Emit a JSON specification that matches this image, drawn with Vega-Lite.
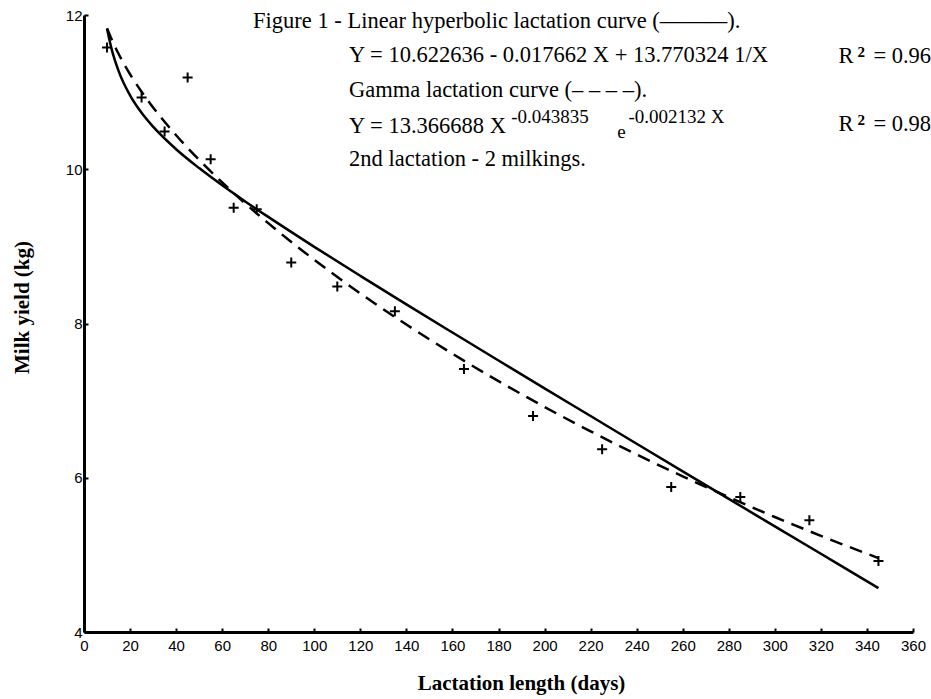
{
  "$schema": "https://vega.github.io/schema/vega-lite/v6.json",
  "width": 829,
  "height": 617,
  "autosize": {"type": "none"},
  "padding": {"left": 84, "top": 15, "right": 18, "bottom": 67},
  "background": "white",
  "config": {
    "view": {"stroke": null},
    "axis": {
      "grid": false,
      "domainColor": "black",
      "domainWidth": 3,
      "tickColor": "black",
      "tickWidth": 2,
      "tickSize": -4,
      "labelFont": "Liberation Sans",
      "labelFontSize": 15,
      "labelColor": "black",
      "labelFlush": false,
      "labelOverlap": false,
      "titleFont": "Liberation Serif",
      "titleFontWeight": "bold",
      "titleFontSize": 21,
      "titleColor": "black"
    },
    "text": {"font": "Liberation Serif", "fontSize": 22.5, "color": "black", "align": "left", "baseline": "alphabetic"}
  },
  "datasets": {
    "obs": [
      {"day": 10, "yield": 11.58},
      {"day": 25, "yield": 10.93},
      {"day": 35, "yield": 10.49},
      {"day": 45, "yield": 11.19},
      {"day": 55, "yield": 10.13},
      {"day": 65, "yield": 9.50},
      {"day": 75, "yield": 9.48},
      {"day": 90, "yield": 8.79},
      {"day": 110, "yield": 8.48},
      {"day": 135, "yield": 8.16},
      {"day": 165, "yield": 7.41},
      {"day": 195, "yield": 6.80},
      {"day": 225, "yield": 6.37},
      {"day": 255, "yield": 5.88},
      {"day": 285, "yield": 5.75},
      {"day": 315, "yield": 5.45},
      {"day": 345, "yield": 4.92}
    ],
    "curves": [
      {"day": 10, "hyper": 11.823, "gamma": 11.828},
      {"day": 12, "hyper": 11.558, "gamma": 11.684},
      {"day": 15, "hyper": 11.276, "gamma": 11.497},
      {"day": 20, "hyper": 10.958, "gamma": 11.232},
      {"day": 25, "hyper": 10.732, "gamma": 11.005},
      {"day": 30, "hyper": 10.552, "gamma": 10.802},
      {"day": 40, "hyper": 10.260, "gamma": 10.441},
      {"day": 50, "hyper": 10.015, "gamma": 10.122},
      {"day": 60, "hyper": 9.792, "gamma": 9.829},
      {"day": 70, "hyper": 9.583, "gamma": 9.557},
      {"day": 80, "hyper": 9.382, "gamma": 9.301},
      {"day": 100, "hyper": 8.994, "gamma": 8.826},
      {"day": 120, "hyper": 8.618, "gamma": 8.390},
      {"day": 140, "hyper": 8.248, "gamma": 7.986},
      {"day": 160, "hyper": 7.883, "gamma": 7.608},
      {"day": 180, "hyper": 7.520, "gamma": 7.253},
      {"day": 200, "hyper": 7.159, "gamma": 6.918},
      {"day": 220, "hyper": 6.800, "gamma": 6.602},
      {"day": 240, "hyper": 6.441, "gamma": 6.302},
      {"day": 260, "hyper": 6.083, "gamma": 6.018},
      {"day": 280, "hyper": 5.726, "gamma": 5.748},
      {"day": 300, "hyper": 5.370, "gamma": 5.491},
      {"day": 320, "hyper": 5.014, "gamma": 5.247},
      {"day": 345, "hyper": 4.569, "gamma": 4.958}
    ]
  },
  "layer": [
    {
      "data": {"name": "curves"},
      "mark": {"type": "line", "color": "black", "strokeWidth": 2.5, "interpolate": "monotone"},
      "encoding": {
        "x": {
          "field": "day", "type": "quantitative",
          "scale": {"domain": [0, 360], "nice": false, "zero": false},
          "axis": {
            "title": "Lactation length (days)",
            "values": [0, 20, 40, 60, 80, 100, 120, 140, 160, 180, 200, 220, 240, 260, 280, 300, 320, 340, 360],
            "format": "d",
            "labelPadding": 10,
            "titleX": 437, "titleY": 57, "titleAlign": "center", "titleBaseline": "alphabetic", "titleAnchor": null
          }
        },
        "y": {
          "field": "hyper", "type": "quantitative",
          "scale": {"domain": [4, 12], "nice": false, "zero": false},
          "axis": {
            "title": "Milk yield (kg)",
            "values": [4, 6, 8, 10, 12],
            "format": "d",
            "labelPadding": 6,
            "titleX": -56, "titleY": 292, "titleAngle": -90, "titleAlign": "center", "titleBaseline": "alphabetic", "titleAnchor": null
          }
        }
      }
    },
    {
      "data": {"name": "curves"},
      "mark": {"type": "line", "color": "black", "strokeWidth": 2.5, "strokeDash": [13, 8], "interpolate": "monotone"},
      "encoding": {
        "x": {"field": "day", "type": "quantitative"},
        "y": {"field": "gamma", "type": "quantitative"}
      }
    },
    {
      "data": {"name": "obs"},
      "mark": {"type": "point", "shape": "M-1,0L1,0M0,-1L0,1", "filled": false, "stroke": "black", "strokeWidth": 2, "size": 100, "opacity": 1},
      "encoding": {
        "x": {"field": "day", "type": "quantitative"},
        "y": {"field": "yield", "type": "quantitative"}
      }
    },
    {
      "data": {"values": [{"t": "Figure 1 - Linear hyperbolic lactation curve (———)."}]},
      "mark": {"type": "text"},
      "encoding": {"x": {"datum": 73.4}, "y": {"datum": 11.834}, "text": {"field": "t"}}
    },
    {
      "data": {"values": [{"t": "Y = 10.622636 - 0.017662 X + 13.770324 1/X"}]},
      "mark": {"type": "text"},
      "encoding": {"x": {"datum": 115.1}, "y": {"datum": 11.397}, "text": {"field": "t"}}
    },
    {
      "data": {"values": [{"t": "R"}]},
      "mark": {"type": "text"},
      "encoding": {"x": {"datum": 327.6}, "y": {"datum": 11.384}, "text": {"field": "t"}}
    },
    {
      "data": {"values": [{"t": "2"}]},
      "mark": {"type": "text", "fontSize": 15, "fontWeight": "bold"},
      "encoding": {"x": {"datum": 335.9}, "y": {"datum": 11.461}, "text": {"field": "t"}}
    },
    {
      "data": {"values": [{"t": "= 0.96"}]},
      "mark": {"type": "text"},
      "encoding": {"x": {"datum": 342.8}, "y": {"datum": 11.384}, "text": {"field": "t"}}
    },
    {
      "data": {"values": [{"t": "Gamma lactation curve (– – – –)."}]},
      "mark": {"type": "text"},
      "encoding": {"x": {"datum": 115.1}, "y": {"datum": 10.942}, "text": {"field": "t"}}
    },
    {
      "data": {"values": [{"t": "Y = 13.366688 X"}]},
      "mark": {"type": "text"},
      "encoding": {"x": {"datum": 115.1}, "y": {"datum": 10.475}, "text": {"field": "t"}}
    },
    {
      "data": {"values": [{"t": "-0.043835"}]},
      "mark": {"type": "text", "fontSize": 19},
      "encoding": {"x": {"datum": 185.5}, "y": {"datum": 10.605}, "text": {"field": "t"}}
    },
    {
      "data": {"values": [{"t": "e"}]},
      "mark": {"type": "text", "fontSize": 19},
      "encoding": {"x": {"datum": 231.6}, "y": {"datum": 10.41}, "text": {"field": "t"}}
    },
    {
      "data": {"values": [{"t": "-0.002132 X"}]},
      "mark": {"type": "text", "fontSize": 19},
      "encoding": {"x": {"datum": 236.4}, "y": {"datum": 10.605}, "text": {"field": "t"}}
    },
    {
      "data": {"values": [{"t": "R"}]},
      "mark": {"type": "text"},
      "encoding": {"x": {"datum": 327.6}, "y": {"datum": 10.501}, "text": {"field": "t"}}
    },
    {
      "data": {"values": [{"t": "2"}]},
      "mark": {"type": "text", "fontSize": 15, "fontWeight": "bold"},
      "encoding": {"x": {"datum": 335.9}, "y": {"datum": 10.579}, "text": {"field": "t"}}
    },
    {
      "data": {"values": [{"t": "= 0.98"}]},
      "mark": {"type": "text"},
      "encoding": {"x": {"datum": 342.8}, "y": {"datum": 10.501}, "text": {"field": "t"}}
    },
    {
      "data": {"values": [{"t": "2nd lactation - 2 milkings."}]},
      "mark": {"type": "text"},
      "encoding": {"x": {"datum": 115.1}, "y": {"datum": 10.047}, "text": {"field": "t"}}
    }
  ]
}
